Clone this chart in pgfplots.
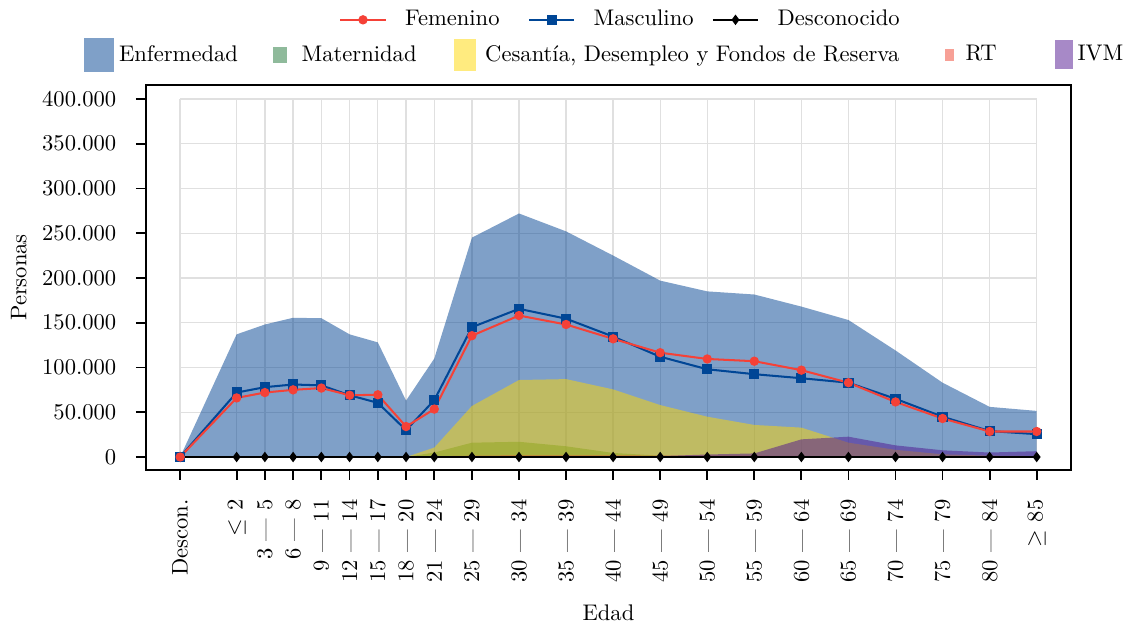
\documentclass[border=0pt]{standalone}
\usepackage{pgfplots}
\pgfplotsset{compat=1.18}
\definecolor{enf}{RGB}{0,65,145}
\definecolor{mat}{RGB}{31,117,55}
\definecolor{ces}{RGB}{255,215,0}
\definecolor{rt}{RGB}{239,65,45}
\definecolor{ivm}{RGB}{79,19,143}
\definecolor{fem}{RGB}{245,65,55}
\definecolor{mas}{RGB}{0,70,150}
\definecolor{gridc}{RGB}{224,224,224}
\begin{document}
\begin{tikzpicture}
\begin{axis}[name=main, scale only axis, width=409.6pt, height=170.5pt,
  xmin=-9.64, xmax=88.64, ymin=-14500, ymax=415600,
  axis line style={line width=0.8pt},
  tick align=outside, xtick pos=bottom, ytick pos=left, major tick length=4.4pt,
  tick style={black, line width=0.8pt},
  xtick={-6,0,3,6,9,12,15,18,21,25,30,35,40,45,50,55,60,65,70,75,80,85},
  xticklabels={Descon., $\leq$ 2, 3 --- 5, 6 --- 8, 9 --- 11, 12 --- 14, 15 --- 17, 18 --- 20, 21 --- 24, 25 --- 29, 30 --- 34, 35 --- 39, 40 --- 44, 45 --- 49, 50 --- 54, 55 --- 59, 60 --- 64, 65 --- 69, 70 --- 74, 75 --- 79, 80 --- 84, $\geq$ 85},
  xticklabel style={rotate=90, anchor=east},
  xticklabel shift=5.2pt, yticklabel shift=5.2pt,
  ytick={0,50000,100000,150000,200000,250000,300000,350000,400000},
  scaled y ticks=false,
  yticklabel style={/pgf/number format/.cd, fixed, 1000 sep={.}},
  xlabel={Edad}, ylabel={Personas},
  xlabel style={yshift=-3pt},
  legend style={at={(0.4967,1.078)}, anchor=center, draw=none, fill=none, legend columns=-1,
    /tikz/every even column/.append style={column sep=10.2pt}},
]
\pgfplotsinvokeforeach{-6,0,3,6,9,12,15,18,21,25,30,35,40,45,50,55,60,65,70,75,80,85}{
  \draw[gridc, line width=0.6pt] (axis cs:#1,0) -- (axis cs:#1,400000);
}
\pgfplotsinvokeforeach{0,50000,100000,150000,200000,250000,300000,350000,400000}{
  \draw[gridc, line width=0.6pt] (axis cs:-6,#1) -- (axis cs:85,#1);
}
% Enfermedad
\addplot[draw=none, fill=enf, fill opacity=0.5,
  legend image code/.code={\path[draw=none, fill=none] (0pt,-7.5pt) rectangle (14pt,7.5pt); \fill[enf, fill opacity=0.5] (0.35pt,-7.5pt) rectangle (13.65pt,7.5pt);}]
coordinates {(-6,0) (0,137000) (3,148000) (6,155500) (9,155000) (12,137000) (15,128000) (18,63000) (21,110000) (25,245000) (30,272000) (35,252000) (40,225000) (45,197000) (50,185000) (55,181500) (60,168000) (65,153000) (70,119000) (75,83000) (80,56000) (85,51500) (85,0)} \closedcycle;
\addlegendentry{Enfermedad}
% Maternidad
\addplot[draw=none, fill=mat, fill opacity=0.5,
  legend image code/.code={\path[draw=none, fill=none] (0pt,-7.5pt) rectangle (14pt,7.5pt); \fill[mat, fill opacity=0.5] (3.2pt,-3.6pt) rectangle (9.4pt,3.6pt);}]
coordinates {(-6,0) (0,0) (3,0) (6,0) (9,0) (12,0) (15,0) (18,0) (21,5000) (25,16000) (30,17000) (35,12000) (40,4500) (45,1500) (50,800) (55,500) (60,300) (65,0) (70,0) (75,0) (80,0) (85,0)} \closedcycle;
\addlegendentry{Maternidad\rule{2.2pt}{0pt}}
% Cesantia
\addplot[draw=none, fill=ces, fill opacity=0.5,
  legend image code/.code={\path[draw=none, fill=none] (0pt,-7.5pt) rectangle (14pt,7.5pt); \fill[ces, fill opacity=0.5] (2.1pt,-7.2pt) rectangle (11.9pt,7.2pt);}]
coordinates {(-6,0) (0,0) (3,0) (6,0) (9,0) (12,0) (15,0) (18,0) (21,10500) (25,57000) (30,86000) (35,87000) (40,75500) (45,58000) (50,45000) (55,35800) (60,32800) (65,16000) (70,8000) (75,3000) (80,1500) (85,1000) (85,0)} \closedcycle;
\addlegendentry{Cesantía, Desempleo y Fondos de Reserva\rule{1.1pt}{0pt}}
% RT
\addplot[draw=none, fill=rt, fill opacity=0.5,
  legend image code/.code={\path[draw=none, fill=none] (0pt,-7.5pt) rectangle (14pt,7.5pt); \fill[rt, fill opacity=0.5] (6.8pt,-2.6pt) rectangle (10.8pt,2.6pt);}]
coordinates {(-6,0) (0,0) (3,0) (6,0) (9,0) (12,0) (15,0) (18,0) (21,800) (25,1500) (30,1800) (35,1800) (40,1800) (45,1600) (50,1500) (55,1500) (60,1200) (65,800) (70,400) (75,200) (80,100) (85,100) (85,0)} \closedcycle;
\addlegendentry{RT\rule{7.6pt}{0pt}}
% IVM
\addplot[draw=none, fill=ivm, fill opacity=0.5,
  legend image code/.code={\path[draw=none, fill=none] (0pt,-7.5pt) rectangle (14pt,7.5pt); \fill[ivm, fill opacity=0.5] (6.2pt,-6.4pt) rectangle (13.8pt,6.4pt);}]
coordinates {(-6,0) (0,0) (3,0) (6,0) (9,0) (12,0) (15,0) (18,0) (21,0) (25,0) (30,0) (35,0) (40,0) (45,1000) (50,2800) (55,4000) (60,19700) (65,22700) (70,13000) (75,7500) (80,5000) (85,6500) (85,0)} \closedcycle;
\addlegendentry{IVM}
% Lines
\addplot[forget plot, black, line width=0.9pt, mark=diamond*, mark size=1.6pt]
coordinates {(-6,0) (0,0) (3,0) (6,0) (9,0) (12,0) (15,0) (18,0) (21,0) (25,0) (30,0) (35,0) (40,0) (45,0) (50,0) (55,0) (60,0) (65,0) (70,0) (75,0) (80,0) (85,0)};
\addplot[forget plot, mas, line width=0.9pt, mark=square*, mark size=1.8pt]
coordinates {(-6,0) (0,72000) (3,78000) (6,81000) (9,80000) (12,69000) (15,60500) (18,30000) (21,63500) (25,145000) (30,165500) (35,154500) (40,134500) (45,112000) (50,98000) (55,92500) (60,88000) (65,83000) (70,65000) (75,45000) (80,29000) (85,25500)};
\addplot[forget plot, fem, line width=0.9pt, mark=*, mark size=1.6pt]
coordinates {(-6,0) (0,66000) (3,72000) (6,75000) (9,77000) (12,69000) (15,69500) (18,34000) (21,53500) (25,135500) (30,158000) (35,148000) (40,132000) (45,116500) (50,109500) (55,107000) (60,97000) (65,83000) (70,61500) (75,43000) (80,28500) (85,28500)};
\end{axis}
\begin{axis}[at={(main.south west)}, anchor=south west, scale only axis, width=409.6pt, height=170.5pt,
  hide axis, xmin=0, xmax=1, ymin=0, ymax=1,
  legend style={at={(0.5145,1.169)}, anchor=center, draw=none, fill=none, legend columns=-1,
    /tikz/every odd column/.append style={column sep=6.2pt},
    /tikz/every even column/.append style={column sep=6.1pt}},
  legend image code/.code={\draw[#1, mark repeat=2, mark phase=2] plot coordinates {(0pt,0pt) (10pt,0pt) (20pt,0pt)};},
]
\addlegendimage{fem, line width=0.9pt, mark=*, mark size=1.6pt}
\addlegendentry{Femenino\rule{4.5pt}{0pt}}
\addlegendimage{mas, line width=0.9pt, mark=square*, mark size=1.8pt}
\addlegendentry{Masculino}
\addlegendimage{black, line width=0.9pt, mark=diamond*, mark size=1.6pt}
\addlegendentry{Desconocido}
\end{axis}
\pgfresetboundingbox
\path[use as bounding box] ([xshift=-64.6pt,yshift=-67.7pt]main.south west) rectangle ([xshift=25.7pt,yshift=37.6pt]main.north east);
\end{tikzpicture}
\end{document}
